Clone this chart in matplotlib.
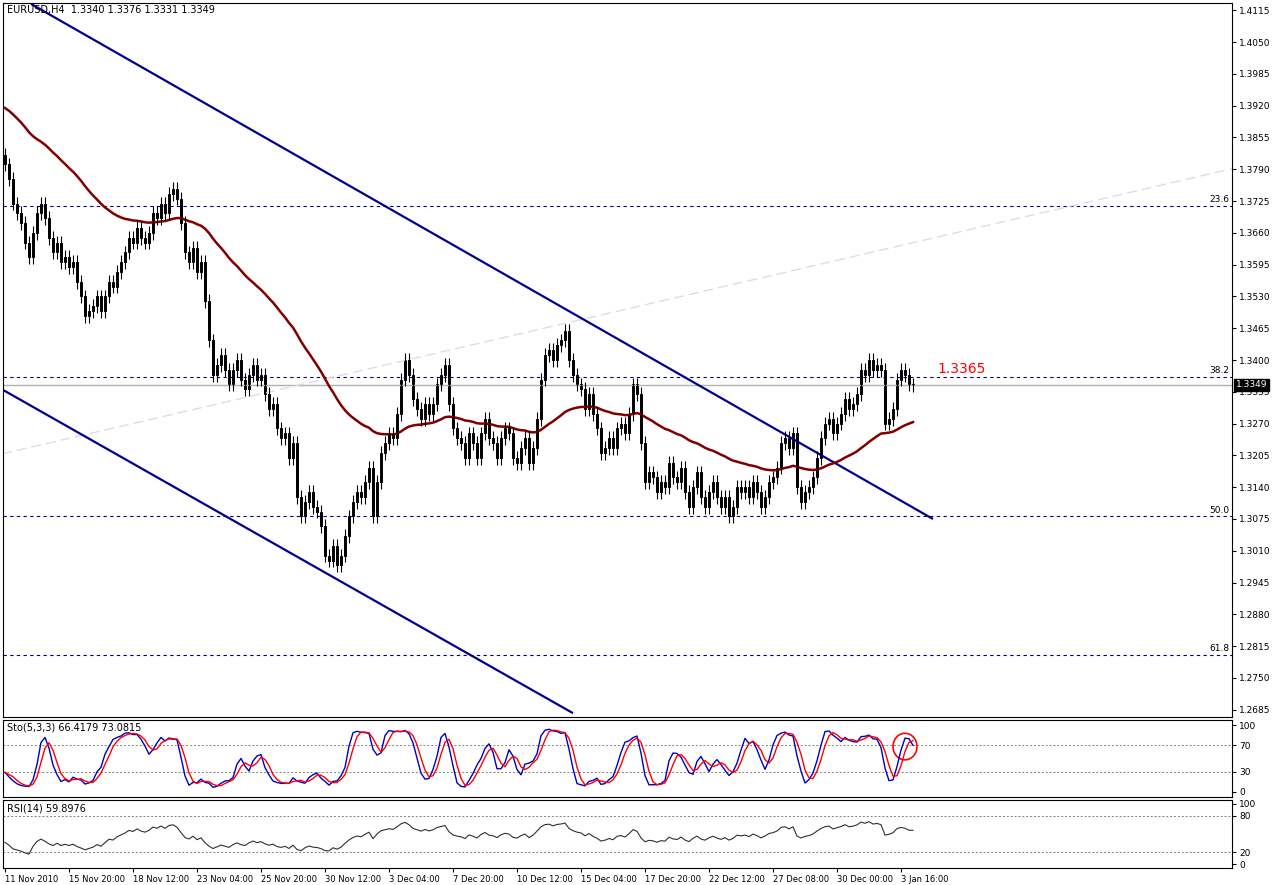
import numpy as np
import matplotlib
matplotlib.use("Agg")
import matplotlib.pyplot as plt
from matplotlib.patches import Rectangle, Ellipse

closes = [
1.3800,1.3770,1.3720,1.3700,1.3680,1.3640,1.3610,1.3660,1.3700,1.3720,
1.3690,1.3650,1.3620,1.3640,1.3600,1.3610,1.3590,1.3600,1.3560,1.3530,
1.3490,1.3500,1.3510,1.3530,1.3500,1.3530,1.3560,1.3550,1.3580,1.3600,
1.3620,1.3650,1.3640,1.3670,1.3650,1.3640,1.3660,1.3700,1.3690,1.3720,
1.3700,1.3740,1.3750,1.3730,1.3680,1.3620,1.3600,1.3630,1.3580,1.3600,
1.3520,1.3440,1.3370,1.3390,1.3410,1.3380,1.3350,1.3380,1.3400,1.3360,
1.3340,1.3370,1.3390,1.3360,1.3370,1.3330,1.3300,1.3310,1.3260,1.3240,
1.3250,1.3200,1.3230,1.3120,1.3080,1.3110,1.3130,1.3100,1.3090,1.3060,
1.3000,1.2990,1.3020,1.2980,1.3000,1.3040,1.3080,1.3110,1.3130,1.3120,
1.3150,1.3180,1.3080,1.3150,1.3210,1.3230,1.3250,1.3240,1.3290,1.3360,
1.3400,1.3370,1.3320,1.3300,1.3280,1.3310,1.3290,1.3310,1.3350,1.3370,
1.3390,1.3310,1.3260,1.3240,1.3230,1.3200,1.3250,1.3230,1.3200,1.3250,
1.3280,1.3240,1.3230,1.3200,1.3240,1.3260,1.3250,1.3200,1.3190,1.3220,
1.3240,1.3190,1.3220,1.3280,1.3360,1.3410,1.3420,1.3400,1.3430,1.3440,
1.3460,1.3400,1.3370,1.3350,1.3340,1.3300,1.3330,1.3290,1.3260,1.3210,
1.3220,1.3240,1.3220,1.3260,1.3270,1.3250,1.3290,1.3350,1.3330,1.3230,
1.3150,1.3170,1.3160,1.3130,1.3150,1.3140,1.3190,1.3160,1.3150,1.3180,
1.3130,1.3100,1.3140,1.3170,1.3120,1.3100,1.3130,1.3150,1.3120,1.3100,
1.3120,1.3080,1.3100,1.3140,1.3130,1.3140,1.3120,1.3150,1.3130,1.3100,
1.3120,1.3150,1.3160,1.3180,1.3230,1.3240,1.3220,1.3250,1.3140,1.3110,
1.3130,1.3140,1.3160,1.3200,1.3240,1.3270,1.3280,1.3250,1.3270,1.3290,
1.3320,1.3300,1.3310,1.3330,1.3380,1.3370,1.3400,1.3380,1.3390,1.3380,
1.3270,1.3280,1.3300,1.3360,1.3380,1.3370,1.3350,1.3349]
first_open = 1.3820
wick = 0.0014
ma_seed = 1.3920
ma_span = 50

x_labels = ["11 Nov 2010","15 Nov 20:00","18 Nov 12:00","23 Nov 04:00","25 Nov 20:00",
            "30 Nov 12:00","3 Dec 04:00","7 Dec 20:00","10 Dec 12:00","15 Dec 04:00",
            "17 Dec 20:00","22 Dec 12:00","27 Dec 08:00","30 Dec 00:00","3 Jan 16:00"]
fib_levels = [1.3715, 1.3365, 1.3080, 1.2797]
fib_names = ["23.6", "38.2", "50.0", "61.8"]
upper_chan = [(6.75, 1.4127), (231.75, 1.3076)]
lower_chan = [(-0.75, 1.3340), (141.75, 1.2679)]
faint_line = [(-0.75, 1.3208), (317.75, 1.3812)]

c = np.array(closes)
n = len(c)
o = np.concatenate([[first_open], c[:-1]])
h = np.maximum(o, c) + wick
l = np.minimum(o, c) - wick
idx = np.arange(n)

ma = np.empty(n); prev = ma_seed; alpha = 2/(ma_span+1)
for i in range(n):
    prev = prev + alpha*(c[i]-prev); ma[i] = prev

k = np.full(n, np.nan)
for i in range(n):
    js = range(max(0, i-2), i+1)
    num = sum(c[j] - l[max(0,j-4):j+1].min() for j in js)
    den = sum(h[max(0,j-4):j+1].max() - l[max(0,j-4):j+1].min() for j in js)
    k[i] = 100*num/den
d = np.array([k[max(0,i-2):i+1].mean() for i in range(n)])

diff = np.diff(c, prepend=first_open)
up = np.where(diff>0, diff, 0); dn = np.where(diff<0, -diff, 0)
rsi = np.empty(n); au = 0.0006; ad = 0.0009
for i in range(n):
    au = (au*13+up[i])/14; ad = (ad*13+dn[i])/14
    rsi[i] = 100 - 100/(1+au/ad)

W, H = 1274, 885
fig = plt.figure(figsize=(W/100, H/100), dpi=100)
L, R = 3/W, 1232/W
def ax_at(top, bot):
    return fig.add_axes([L, 1-bot/H, R-L, (bot-top)/H])
ax = ax_at(3, 717); ax2 = ax_at(720, 797); ax3 = ax_at(800, 868)
xlim = (-0.5, -0.5 + 1229/4)
for a in (ax, ax2, ax3):
    a.set_xlim(*xlim)
    a.yaxis.tick_right()
    a.tick_params(axis='y', labelsize=6.5, length=3, pad=2)
    a.set_xticks([])
    for s in a.spines.values(): s.set_linewidth(0.8)

ax.set_ylim(1.2670, 1.4130)
yt = np.arange(1.2685, 1.4116, 0.0065)
ax.set_yticks(yt)
ax.set_yticklabels([f"{v:.4f}" for v in yt])

for lv, nm in zip(fib_levels, fib_names):
    ax.axhline(lv, color='#000080', lw=0.8, ls=(0, (3, 3)))
    ax.text(306, lv + 0.0004, nm, fontsize=6.5, ha='right', va='bottom')
ax.axhline(c[-1], color='#b0b0b0', lw=1)
ax.plot(*zip(*faint_line), color='#d8d8f0', lw=0.9, ls=(0, (8, 4)))
ax.plot(*zip(*upper_chan), color='#000090', lw=1.6)
ax.plot(*zip(*lower_chan), color='#000090', lw=1.6)
ax.plot(idx, ma, color='#800000', lw=1.8)

for i in range(n):
    ax.vlines(i, l[i], h[i], color='black', lw=0.8)
    bull = c[i] >= o[i]
    ax.add_patch(Rectangle((i-0.3, min(o[i], c[i])), 0.6, max(abs(c[i]-o[i]), 0.0002),
                           facecolor='white' if bull else 'black', edgecolor='black', lw=0.7))
ax.text(233, 1.3368, "1.3365", color='red', fontsize=10, va='bottom')
ax.text(0.5, 1.4125, "EURUSD,H4  1.3340 1.3376 1.3331 1.3349", fontsize=7, va='top')
ax.annotate(f"{c[-1]:.4f}", xy=(1.0, c[-1]), xycoords=('axes fraction', 'data'), xytext=(3, 0),
            textcoords='offset points', fontsize=6.5, color='white', va='center',
            bbox=dict(boxstyle='square,pad=0.2', fc='black', ec='black'))

ax2.set_ylim(-8, 108)
ax2.set_yticks([0, 30, 70, 100])
for lv in (30, 70): ax2.axhline(lv, color='gray', lw=0.7, ls=(0, (2, 2)))
ax2.plot(idx, k, color='#0000c0', lw=1)
ax2.plot(idx, d, color='red', lw=1)
ax2.text(0.5, 104, "Sto(5,3,3) 66.4179 73.0815", fontsize=7, va='top')
ax2.add_patch(Ellipse((n-3, 68), 6, 40, fill=False, ec='red', lw=1.2))

ax3.set_ylim(-6, 106)
ax3.set_yticks([0, 20, 80, 100])
for lv in (20, 80): ax3.axhline(lv, color='gray', lw=0.7, ls=(0, (2, 2)))
ax3.plot(idx, rsi, color='#303030', lw=0.8)
ax3.text(0.5, 100, "RSI(14) 59.8976", fontsize=7, va='top')
ax3.set_xticks(np.arange(0, 16*len(x_labels), 16))
ax3.set_xticklabels(x_labels, fontsize=6, ha='left')
ax3.tick_params(axis='x', length=3, pad=2)

fig.savefig("out.png", dpi=100)
